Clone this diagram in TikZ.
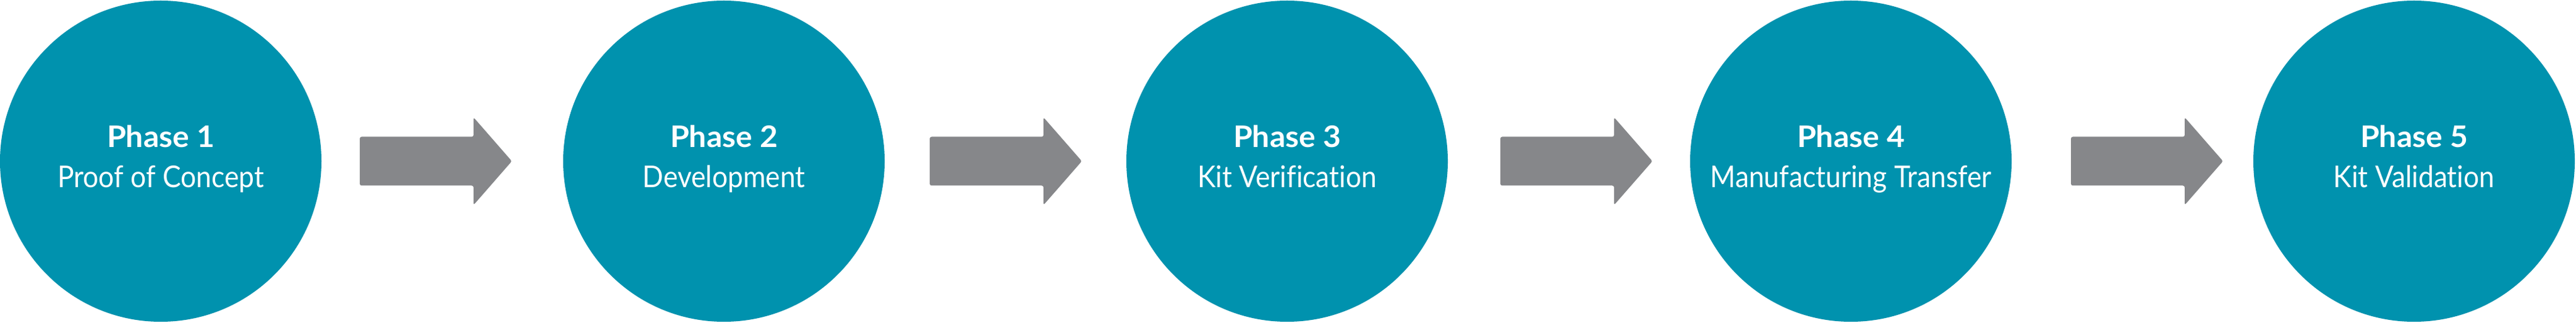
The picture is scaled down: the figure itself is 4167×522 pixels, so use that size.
\documentclass[tikz,border=0pt]{standalone}
\usepackage{fontspec}
\setmainfont{Lato}
\newfontfamily\titlefont[FakeStretch=1.04,Ligatures=NoCommon]{Lato Bold}
\newfontfamily\namefont[FakeStretch=0.915,Ligatures=NoCommon]{Lato}
\definecolor{phaseteal}{HTML}{0092AE}
\definecolor{arrowgrey}{HTML}{86878A}
\tikzset{
  phasecircle/.style={circle,fill=phaseteal,minimum size=520pt,inner sep=0pt},
  phasetitle/.style={anchor=base,text=white,font=\titlefont\fontsize{48}{58}\selectfont,inner sep=0pt},
  phasename/.style={anchor=base,text=white,font=\namefont\fontsize{48.5}{58}\selectfont,inner sep=0pt},
  blockarrow/.style={fill=arrowgrey,rounded corners=3pt}
}
\newcommand{\blockarrowat}[1]{%
  \fill[blockarrow] (#1) ++(0,-39.5) -- ++(184,0) -- ++(0,-31.5) -- ++(62,71) -- ++(-62,71) -- ++(0,-31.5) -- ++(-184,0) -- cycle;}
\begin{document}
\begin{tikzpicture}[x=1pt,y=1pt]
\useasboundingbox (0,0) rectangle (4167,522);
\foreach \i/\cx/\t/\n in {1/260/Phase 1/Proof of Concept,2/1171/Phase 2/Development,3/2082/Phase 3/Kit Verification,4/2994/Phase 4/Manufacturing Transfer,5/3905/Phase 5/Kit Validation}{
  \node[phasecircle] (c\i) at (\cx,261) {};
  \node[phasetitle] (t\i) at (\cx,283) {\t};
  \node[phasename] (n\i) at (\cx,218) {\n};
}
\foreach \j/\ax in {1/582,2/1504,3/2427,4/3350}{
  \coordinate (a\j) at (\ax,261);
  \blockarrowat{a\j}
}
\end{tikzpicture}
\end{document}
